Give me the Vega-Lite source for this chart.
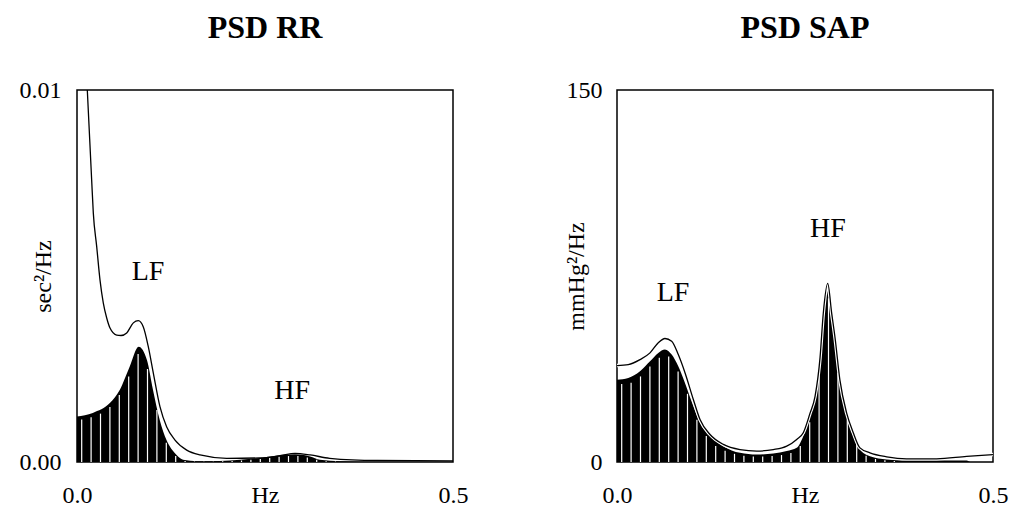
{
  "$schema": "https://vega.github.io/schema/vega-lite/v6.json",
  "autosize": {"type": "pad"},
  "padding": {"left": 18, "top": 11, "right": 8, "bottom": 4},
  "background": "white",
  "bounds": "flush",
  "spacing": 164,
  "datasets": {
    "rrFill": [{"f":0,"v":0.00122},{"f":0.021,"v":0.00132},{"f":0.044,"v":0.00159},{"f":0.057,"v":0.00194},{"f":0.07,"v":0.00256},{"f":0.082,"v":0.0031},{"f":0.093,"v":0.00274},{"f":0.101,"v":0.00194},{"f":0.11,"v":0.00113},{"f":0.119,"v":0.00059},{"f":0.13,"v":0.00024},{"f":0.141,"v":0.00006},{"f":0.16,"v":0.00002},{"f":0.19,"v":0.00003},{"f":0.217,"v":0.00006},{"f":0.243,"v":0.00011},{"f":0.265,"v":0.00017},{"f":0.29,"v":0.00021},{"f":0.31,"v":0.00015},{"f":0.323,"v":0.00006},{"f":0.35,"v":0.00002},{"f":0.399,"v":0},{"f":0.5,"v":0}],
    "rrBars": [{"f":0.00625,"v":0.00114},{"f":0.01875,"v":0.0012},{"f":0.03125,"v":0.0013},{"f":0.04375,"v":0.00148},{"f":0.05625,"v":0.0018},{"f":0.06875,"v":0.0023},{"f":0.08125,"v":0.0029},{"f":0.09375,"v":0.0025},{"f":0.10625,"v":0.0014},{"f":0.11875,"v":0.00052},{"f":0.13125,"v":0.00016},{"f":0.14375,"v":0.00003},{"f":0.15625,"v":0.00001},{"f":0.16875,"v":0.00001},{"f":0.18125,"v":0.00001},{"f":0.19375,"v":0.00002},{"f":0.20625,"v":0.00003},{"f":0.21875,"v":0.00004},{"f":0.23125,"v":0.00006},{"f":0.24375,"v":0.00008},{"f":0.25625,"v":0.00011},{"f":0.26875,"v":0.00014},{"f":0.28125,"v":0.00016},{"f":0.29375,"v":0.00016},{"f":0.30625,"v":0.00012},{"f":0.31875,"v":0.00006},{"f":0.33125,"v":0.00002},{"f":0.34375,"v":0.00001}],
    "rrLine": [{"f":0,"v":0.015},{"f":0.0137,"v":0.01},{"f":0.0195,"v":0.00758},{"f":0.0217,"v":0.00669},{"f":0.0262,"v":0.00579},{"f":0.0306,"v":0.00489},{"f":0.035,"v":0.00427},{"f":0.0395,"v":0.00387},{"f":0.0439,"v":0.0036},{"f":0.0528,"v":0.00341},{"f":0.0585,"v":0.0034},{"f":0.0661,"v":0.00347},{"f":0.0749,"v":0.00374},{"f":0.0815,"v":0.0038},{"f":0.0882,"v":0.00363},{"f":0.0948,"v":0.0031},{"f":0.1015,"v":0.00239},{"f":0.1104,"v":0.00148},{"f":0.1193,"v":0.00094},{"f":0.1303,"v":0.00059},{"f":0.1459,"v":0.00032},{"f":0.1636,"v":0.00019},{"f":0.199,"v":0.0001},{"f":0.243,"v":0.00011},{"f":0.27,"v":0.00017},{"f":0.29,"v":0.00023},{"f":0.31,"v":0.00019},{"f":0.336,"v":0.0001},{"f":0.399,"v":0.00004},{"f":0.5,"v":0.00003}],
    "rrText": [{"f":0.0944,"v":0.0051,"label":"LF"},{"f":0.286,"v":0.0019,"label":"HF"}],
    "sapFill": [{"f":0,"v":33.2},{"f":0.015,"v":33.9},{"f":0.0306,"v":36.6},{"f":0.0439,"v":40.6},{"f":0.0549,"v":44.0},{"f":0.0638,"v":45.4},{"f":0.0727,"v":43.3},{"f":0.0815,"v":38.6},{"f":0.0904,"v":31.9},{"f":0.1015,"v":22.5},{"f":0.1104,"v":15.8},{"f":0.1237,"v":10.4},{"f":0.1414,"v":6.4},{"f":0.1636,"v":3.7},{"f":0.1858,"v":3.0},{"f":0.2078,"v":3.4},{"f":0.2257,"v":4.4},{"f":0.239,"v":5.7},{"f":0.2477,"v":10.4},{"f":0.2566,"v":18.5},{"f":0.2633,"v":25.2},{"f":0.27,"v":41.3},{"f":0.2743,"v":58.8},{"f":0.2802,"v":71},{"f":0.2855,"v":58.8},{"f":0.2899,"v":49.4},{"f":0.2965,"v":31.9},{"f":0.3055,"v":18.5},{"f":0.3142,"v":10.4},{"f":0.3231,"v":5.0},{"f":0.3364,"v":2.3},{"f":0.3586,"v":1.0},{"f":0.385,"v":0.6},{"f":0.465,"v":0.6},{"f":0.47,"v":0},{"f":0.5,"v":0}],
    "sapBars": [{"f":0.00625,"v":31.5},{"f":0.01875,"v":32},{"f":0.03125,"v":34.5},{"f":0.04375,"v":38.5},{"f":0.05625,"v":42},{"f":0.06875,"v":42.5},{"f":0.08125,"v":36.5},{"f":0.09375,"v":27.5},{"f":0.10625,"v":17},{"f":0.11875,"v":10.5},{"f":0.13125,"v":6.5},{"f":0.14375,"v":4.5},{"f":0.15625,"v":3.3},{"f":0.16875,"v":2.5},{"f":0.18125,"v":2.2},{"f":0.19375,"v":2.2},{"f":0.20625,"v":2.4},{"f":0.21875,"v":2.8},{"f":0.23125,"v":3.6},{"f":0.24375,"v":6.5},{"f":0.25625,"v":16},{"f":0.26875,"v":35},{"f":0.28125,"v":66},{"f":0.29375,"v":36},{"f":0.30625,"v":17},{"f":0.31875,"v":7.5},{"f":0.33125,"v":2.5},{"f":0.34375,"v":1.2},{"f":0.35625,"v":0.7},{"f":0.36875,"v":0.4}],
    "sapLine": [{"f":0,"v":38.9},{"f":0.015,"v":39.3},{"f":0.0306,"v":41.3},{"f":0.0439,"v":44.0},{"f":0.0549,"v":48.1},{"f":0.0638,"v":49.8},{"f":0.0727,"v":48.7},{"f":0.0815,"v":43.3},{"f":0.0904,"v":36.0},{"f":0.1015,"v":25.2},{"f":0.1104,"v":17.1},{"f":0.1237,"v":11.1},{"f":0.1414,"v":7.1},{"f":0.1636,"v":5.0},{"f":0.1858,"v":4.4},{"f":0.2078,"v":5.0},{"f":0.2257,"v":6.4},{"f":0.239,"v":9.1},{"f":0.2477,"v":11.8},{"f":0.2566,"v":19.6},{"f":0.2633,"v":26.4},{"f":0.27,"v":42.1},{"f":0.2743,"v":59.9},{"f":0.2802,"v":72},{"f":0.2855,"v":59.9},{"f":0.2899,"v":50.2},{"f":0.2965,"v":32.9},{"f":0.3055,"v":19.6},{"f":0.3142,"v":11.8},{"f":0.3231,"v":5.7},{"f":0.3364,"v":3.7},{"f":0.3586,"v":2.1},{"f":0.385,"v":1.3},{"f":0.425,"v":1.3},{"f":0.465,"v":2.3},{"f":0.5,"v":3.0}],
    "sapText": [{"f":0.0745,"v":68.3,"label":"LF"},{"f":0.2806,"v":94.1,"label":"HF"}]
  },
  "config": {
    "view": {"stroke": "black", "strokeWidth": 1.5},
    "font": "Liberation Serif",
    "scale": {"nice": false},
    "axis": {"domain": false, "ticks": false, "grid": false, "labelFont": "Liberation Serif", "labelFontSize": 24, "labelColor": "black", "titleFont": "Liberation Serif", "titleFontSize": 24, "titleFontWeight": "normal", "titleColor": "black"},
    "axisX": {"labelFlush": false, "labelPadding": 21, "titleY": 21, "titleBaseline": "top"},
    "axisY": {"titleBaseline": "middle"},
    "title": {"font": "Liberation Serif", "fontSize": 32, "fontWeight": "bold", "color": "black", "frame": "group", "baseline": "alphabetic"}
  },
  "hconcat": [
    {
      "width": 376, "height": 372,
      "title": {"text": "PSD RR", "offset": 33},
      "layer": [
        {"data": {"name": "rrFill"}, "mark": {"type": "area", "color": "black", "interpolate": "monotone", "opacity": 1},
         "encoding": {
           "x": {"field": "f", "type": "quantitative", "scale": {"domain": [0, 0.5], "nice": false}, "axis": {"values": [0, 0.5], "format": ".1f", "title": "Hz"}},
           "y": {"field": "v", "type": "quantitative", "scale": {"domain": [0, 0.01], "nice": false}, "axis": {"values": [0, 0.01], "format": ".2f", "title": "sec²/Hz", "titleX": -34, "labelPadding": 16}}}},
        {"data": {"name": "rrBars"}, "mark": {"type": "rule", "color": "white", "strokeWidth": 1.2},
         "encoding": {"x": {"field": "f", "type": "quantitative"}, "y": {"field": "v", "type": "quantitative"}, "y2": {"datum": 0}}},
        {"data": {"name": "rrLine"}, "mark": {"type": "line", "color": "black", "strokeWidth": 1.3, "interpolate": "monotone", "clip": true},
         "encoding": {"x": {"field": "f", "type": "quantitative"}, "y": {"field": "v", "type": "quantitative"}}},
        {"data": {"name": "rrText"}, "mark": {"type": "text", "fontSize": 28, "font": "Liberation Serif", "color": "black", "baseline": "middle"},
         "encoding": {"x": {"field": "f", "type": "quantitative"}, "y": {"field": "v", "type": "quantitative"}, "text": {"field": "label"}}}
      ]
    },
    {
      "width": 376, "height": 372,
      "title": {"text": "PSD SAP", "offset": 33},
      "layer": [
        {"data": {"name": "sapFill"}, "mark": {"type": "area", "color": "black", "interpolate": "monotone", "opacity": 1},
         "encoding": {
           "x": {"field": "f", "type": "quantitative", "scale": {"domain": [0, 0.5], "nice": false}, "axis": {"values": [0, 0.5], "format": ".1f", "title": "Hz"}},
           "y": {"field": "v", "type": "quantitative", "scale": {"domain": [0, 150], "nice": false}, "axis": {"values": [0, 150], "format": "d", "title": "mmHg²/Hz", "titleX": -41, "labelPadding": 15}}}},
        {"data": {"name": "sapBars"}, "mark": {"type": "rule", "color": "white", "strokeWidth": 1.2},
         "encoding": {"x": {"field": "f", "type": "quantitative"}, "y": {"field": "v", "type": "quantitative"}, "y2": {"datum": 0}}},
        {"data": {"name": "sapLine"}, "mark": {"type": "line", "color": "white", "strokeWidth": 3.5, "interpolate": "monotone", "clip": true},
         "encoding": {"x": {"field": "f", "type": "quantitative"}, "y": {"field": "v", "type": "quantitative"}}},
        {"data": {"name": "sapLine"}, "mark": {"type": "line", "color": "black", "strokeWidth": 1.3, "interpolate": "monotone", "clip": true},
         "encoding": {"x": {"field": "f", "type": "quantitative"}, "y": {"field": "v", "type": "quantitative"}}},
        {"data": {"name": "sapText"}, "mark": {"type": "text", "fontSize": 28, "font": "Liberation Serif", "color": "black", "baseline": "middle"},
         "encoding": {"x": {"field": "f", "type": "quantitative"}, "y": {"field": "v", "type": "quantitative"}, "text": {"field": "label"}}}
      ]
    }
  ]
}
